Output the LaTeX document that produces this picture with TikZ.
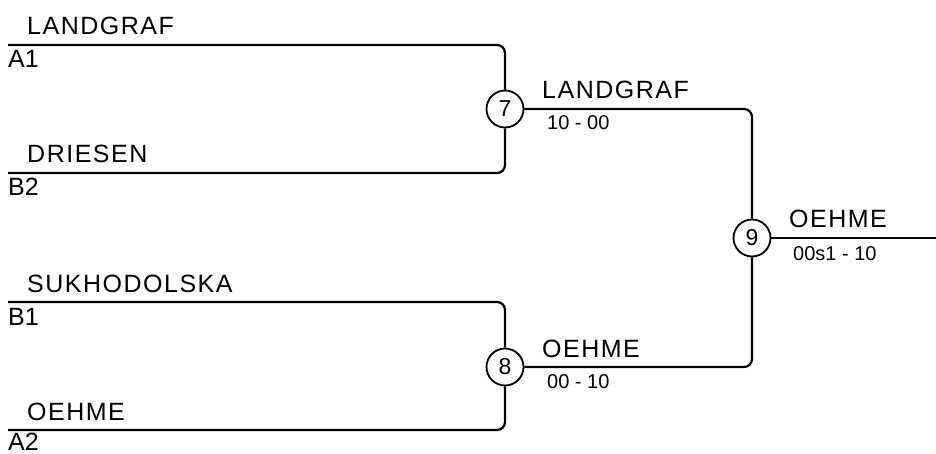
\documentclass[tikz,border=0pt]{standalone}
\usepackage{fontspec}
\setmainfont{Liberation Sans}
\begin{document}
\begin{tikzpicture}[x=1pt,y=-1pt,
  namelbl/.style={anchor=base west,inner sep=0pt,font=\fontsize{25}{25}\selectfont\addfontfeature{LetterSpace=6}},
  seedlbl/.style={anchor=base west,inner sep=0pt,font=\fontsize{25}{25}\selectfont},
  scorelbl/.style={anchor=base west,inner sep=0pt,font=\fontsize{20}{20}\selectfont},
  matchnode/.style={circle,draw,line width=1.8pt,minimum size=37pt,inner sep=0pt,font=\fontsize{23}{23}\selectfont},
  bline/.style={line width=2.2pt,rounded corners=8pt}]
\useasboundingbox (0,0) rectangle (936,454);
% start points
\coordinate (s1) at (8,45);
\coordinate (s2) at (8,173);
\coordinate (s3) at (8,302);
\coordinate (s4) at (8,430);
\coordinate (fin) at (936,238);
% match circles
\node[matchnode] (m7) at (505,109) {7};
\node[matchnode] (m8) at (505,367) {8};
\node[matchnode] (m9) at (752,238) {9};
% connectors
\draw[bline] (s1) -- (505,45) -- (m7.north);
\draw[bline] (s2) -- (505,173) -- (m7.south);
\draw[bline] (s3) -- (505,302) -- (m8.north);
\draw[bline] (s4) -- (505,430) -- (m8.south);
\draw[bline] (m7.east) -- (752,109) -- (m9.north);
\draw[bline] (m8.east) -- (752,367) -- (m9.south);
\draw[bline] (m9.east) -- (fin);
% players
\node[namelbl] (p1) at (27,35) {LANDGRAF};
\node[seedlbl] (q1) at (8,68) {A1};
\node[namelbl] (p2) at (27,163) {DRIESEN};
\node[seedlbl] (q2) at (8,196) {B2};
\node[namelbl] (p3) at (27,292) {SUKHODOLSKA};
\node[seedlbl] (q3) at (8,325) {B1};
\node[namelbl] (p4) at (27,420) {OEHME};
\node[seedlbl] (q4) at (8,450) {A2};
% winners
\node[namelbl] (w7) at (542,99) {LANDGRAF};
\node[scorelbl] (r7) at (547,130) {10 - 00};
\node[namelbl] (w8) at (542,357) {OEHME};
\node[scorelbl] (r8) at (547,388) {00 - 10};
\node[namelbl] (w9) at (789,228) {OEHME};
\node[scorelbl] (r9) at (793,260) {00s1 - 10};
\end{tikzpicture}
\end{document}
